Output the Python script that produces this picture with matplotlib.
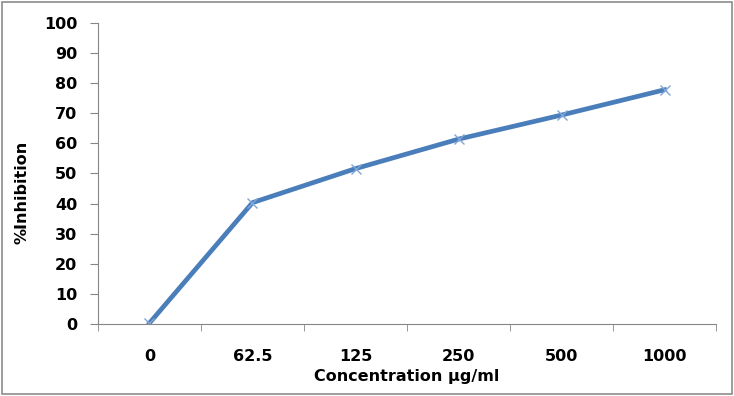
import numpy as np
import matplotlib.pyplot as plt

concentration = ['0', '62.5', '125', '250', '500', '1000']
inhibition = [0.3, 40.3, 51.6, 61.4, 69.4, 77.8]

fig = plt.figure(figsize=(7.34, 3.96), dpi=100)
ax = fig.add_axes([0.1335, 0.182, 0.842, 0.760])

x = np.arange(len(concentration))
ax.plot(x, inhibition, color='#4a7ebb', linewidth=3.4, marker='x',
        markersize=7, markeredgecolor='#7fa6d6', markeredgewidth=1.0)

ax.set_xlim(-0.5, len(concentration) - 0.5)
ax.set_ylim(0, 100)
ax.set_yticks(np.arange(0, 101, 10))
ax.set_xticks(x)
ax.set_xticklabels(concentration, fontsize=11.5, fontweight='bold')
ax.set_xticks(np.arange(-0.5, len(concentration), 1), minor=True)
ax.tick_params(axis='x', which='major', length=0, pad=18)
ax.tick_params(axis='x', which='minor', length=5, color='#868686', direction='out')
ax.tick_params(axis='y', length=6, color='#868686', direction='out', labelsize=11.5, pad=9)
for lab in ax.get_yticklabels():
    lab.set_fontweight('bold')

for s in ['top', 'right']:
    ax.spines[s].set_visible(False)
for s in ['left', 'bottom']:
    ax.spines[s].set_color('#868686')

ax.set_xlabel('Concentration µg/ml', fontsize=11.5, fontweight='bold', labelpad=4)
# y label sits a bit below the axis middle, like the original
fig.text(22 / 734, 1 - 192 / 396, '%Inhibition', rotation=90, ha='center', va='center',
         fontsize=11.5, fontweight='bold')

fig.patches.append(plt.Rectangle((0.003, 0.004), 0.994, 0.99, transform=fig.transFigure,
                                 fill=False, edgecolor='#8c8c8c', linewidth=1.2))

fig.savefig('out.png', dpi=100)
